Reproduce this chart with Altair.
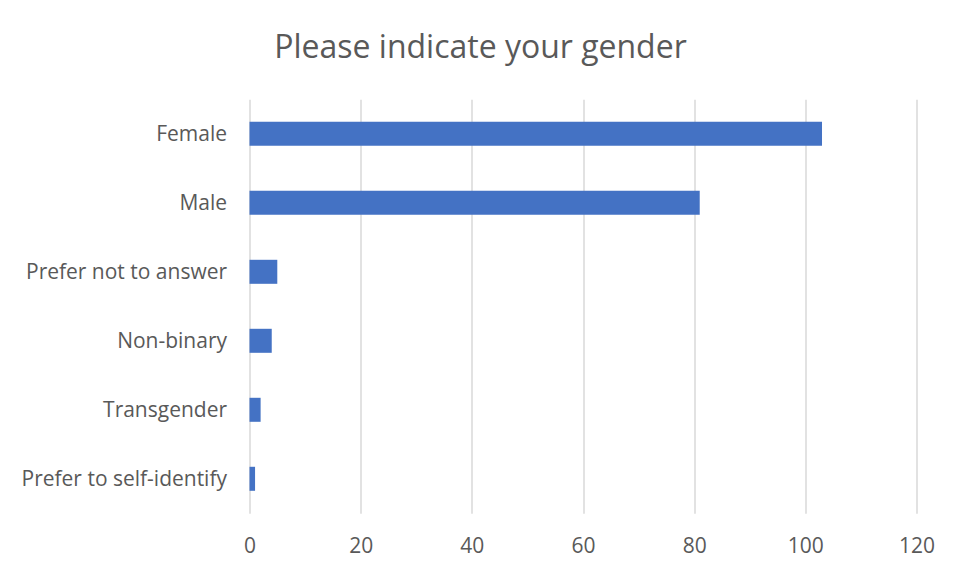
import altair as alt
import pandas as pd

categories = ["Female", "Male", "Prefer not to answer", "Non-binary",
              "Transgender", "Prefer to self-identify"]
counts = [103, 81, 5, 4, 2, 1]
x_ticks = [0, 20, 40, 60, 80, 100, 120]

df = pd.DataFrame({"gender": categories, "count": counts})

FONT = "Open Sans"
TXT = "#595959"

chart = alt.Chart(df).mark_bar(color="#4472C4").encode(
    x=alt.X("count:Q",
            scale=alt.Scale(domain=[0, 120], nice=False),
            axis=alt.Axis(values=x_ticks, title=None, domain=False, ticks=False,
                          grid=True, gridColor="#d9d9d9", gridWidth=1.5,
                          labelFont=FONT, labelFontSize=21, labelColor=TXT,
                          labelPadding=22, labelFlush=False)),
    y=alt.Y("gender:N", sort=categories,
            scale=alt.Scale(paddingInner=0.652, paddingOuter=0.326),
            axis=alt.Axis(title=None, domain=False, ticks=False, grid=False,
                          labelFont=FONT, labelFontSize=21, labelColor=TXT,
                          labelPadding=23, labelLimit=400, labelOffset=1)),
).properties(
    width=667,
    height=414,
    background="white",
    autosize=alt.AutoSizeParams(type="none"),
    padding={"left": 241.5, "top": 91.3, "right": 30, "bottom": 50},
    title=alt.Title("Please indicate your gender", font=FONT, fontSize=32,
                    fontWeight="normal", color=TXT, anchor="middle",
                    frame="group", baseline="alphabetic", offset=9.5,
                    dx=-102.5),
).configure_view(stroke=None, strokeWidth=0)

chart.save("out.html", embed_options={"renderer": "svg", "actions": False})
